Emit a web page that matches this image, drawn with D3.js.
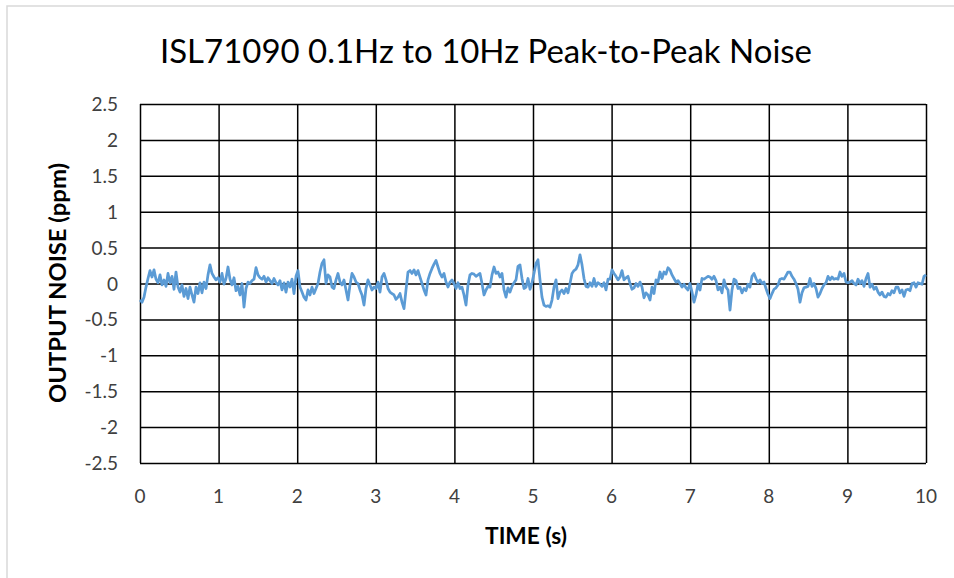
<!DOCTYPE html>
<html>
<head>
<meta charset="utf-8">
<script src="https://cdn.jsdelivr.net/npm/d3@7"></script>
<style>
  body { margin: 0; background: #fff; }
  svg { display: block; font-family: Lato, "Open Sans", sans-serif; }
</style>
</head>
<body>
<div id="chart"></div>
<script>
// Données
const chartTitle = 'ISL71090 0.1Hz to 10Hz Peak-to-Peak Noise';
const xTitle = 'TIME (s)';
const yTitle = 'OUTPUT NOISE (ppm)';
const xTicks = [0, 1, 2, 3, 4, 5, 6, 7, 8, 9, 10];
const yTicks = [2.5, 2, 1.5, 1, 0.5, 0, -0.5, -1, -1.5, -2, -2.5];
const timeRange = [0, 10];

// bruit de sortie (ppm), échantillons réguliers de 0 à 10 s
const noisePpm = [
  -0.23, -0.26, -0.19, -0.05, 0.07, 0.18, 0.09, 0.19, 0.06, 0.01,
  0.12, -0.02, 0.05, -0.04, 0.14, 0.01, 0.10, -0.08, 0.16, -0.05,
  -0.12, -0.02, -0.18, -0.07, -0.21, -0.05, -0.16, -0.26, -0.05, -0.14,
  0.01, -0.13, 0.02, -0.07, 0.12, 0.26, 0.14, 0.09, 0.05, 0.08,
  0.02, 0.14, -0.01, 0.07, 0.23, 0.06, -0.02, 0.08, -0.10, -0.04,
  -0.16, 0, -0.33, -0.07, 0.02, 0, 0.04, 0.06, 0.22, 0.12,
  0.08, 0.06, 0.10, 0.02, 0.08, 0.04, 0, 0.07, 0.01, -0.02,
  0.04, -0.09, 0.01, -0.12, 0.02, -0.05, 0.06, -0.14, 0.10, 0.18,

  -0.05, -0.12, -0.19, -0.23, -0.09, -0.16, -0.05, -0.14, -0.07, 0,
  0.16, 0.28, 0.33, 0, 0.12, 0.09, -0.05, -0.07, 0.05, 0.14,
  0.02, -0.02, 0.05, -0.09, -0.23, -0.02, 0.14, 0.09, 0.02, 0,
  -0.09, -0.16, -0.30, -0.07, 0.05, -0.02, -0.09, -0.05, -0.07, 0.02,
  -0.12, 0.09, 0.14, 0.05, -0.07, -0.12, -0.14, -0.16, -0.22, -0.19,
  -0.14, -0.26, -0.35, -0.09, 0.16, 0.18, 0.14, 0.19, 0.12, 0.18,
  0.09, 0, -0.09, -0.16, 0.05, 0.14, 0.21, 0.27, 0.32, 0.23,
  0.14, 0.09, 0.14, 0.02, -0.05, 0.02, 0.05, 0, -0.07, 0.01,

  -0.07, -0.05, -0.16, -0.30, -0.02, 0.12, 0.14, 0.13, 0.10, 0.12,
  0.14, 0, -0.16, -0.09, -0.04, -0.05, 0.12, 0.23, 0.14, 0.16,
  0.09, 0.14, -0.09, -0.19, -0.06, -0.12, -0.04, 0.01, 0.05, 0.24,
  0.26, 0.07, -0.07, -0.05, 0.07, -0.08, 0.01, 0.14, 0.28, 0.33,
  0.05, -0.19, -0.30, -0.32, -0.31, -0.33, -0.23, -0.05, 0.05, -0.21,
  -0.12, -0.09, -0.14, -0.07, -0.13, 0, 0.14, 0.18, 0.20, 0.26,
  0.40, 0.26, 0.07, -0.04, -0.05, 0.01, -0.04, 0.07, -0.04, 0.01,
  -0.01, -0.04, 0.01, -0.09, 0.06, 0.06, 0.19, 0.14, 0.10, 0.05,

  0.09, 0.18, 0.05, 0.08, 0.10, 0, -0.08, -0.06, 0, -0.04,
  0.02, -0.05, -0.20, -0.13, -0.16, -0.23, -0.05, -0.14, 0.05, 0.02,
  0.16, 0.07, 0.16, 0.13, 0.22, 0.19, 0.12, 0.07, 0.02, 0.04,
  0, -0.05, -0.01, -0.06, -0.09, 0, -0.12, -0.26, -0.16, -0.01,
  -0.09, 0.07, 0.06, 0.08, 0.10, 0.09, 0.06, 0.10, 0.04, -0.09,
  -0.05, -0.13, 0.05, -0.05, -0.09, -0.37, -0.09, 0.06, 0.04, -0.07,
  -0.05, -0.13, -0.07, -0.10, -0.01, -0.05, 0.10, 0.14, 0.07, 0.01,
  0.05, 0, 0.02, -0.07, -0.15, -0.21, -0.14, -0.08, -0.06, -0.02,

  0.06, 0.07, 0.06, 0.11, 0.16, 0.16, 0.10, 0.06, 0, -0.08,
  -0.26, -0.13, -0.06, -0.05, -0.04, 0.07, -0.04, 0, -0.07, -0.19,
  -0.14, -0.07, -0.02, 0.01, 0.10, 0.05, 0.09, 0.06, 0.07, 0.06,
  0.16, 0.10, 0.14, 0.02, 0.01, 0.02, 0.04, 0, -0.02, 0.06,
  0, 0.04, -0.04, 0.07, 0.14, -0.05, -0.01, -0.08, -0.05, -0.12,
  -0.16, -0.12, -0.18, -0.19, -0.14, -0.16, -0.10, -0.13, -0.05, -0.05,
  -0.13, -0.09, -0.18, -0.09, -0.08, -0.10, 0, 0.01, -0.05, 0.01,
  0, -0.01, 0.10, 0.12
];

const width = 954, height = 578;
const margin = { top: 104, right: 28, bottom: 115, left: 140 };

const svg = d3.select('#chart')
  .append('svg')
  .attr('width', width)
  .attr('height', height);

// cadre gris clair
svg.append('path')
  .attr('d', `M7,${height} L7,6 L${width},6`)
  .attr('fill', 'none')
  .attr('stroke', '#d9d9d9')
  .attr('stroke-width', 1.5);

const x = d3.scaleLinear()
  .domain(timeRange)
  .range([margin.left, width - margin.right]);

const y = d3.scaleLinear()
  .domain([-2.5, 2.5])
  .range([height - margin.bottom, margin.top]);

const dt = (timeRange[1] - timeRange[0]) / (noisePpm.length - 1);

// grille
svg.append('g')
  .attr('transform', `translate(0,${height - margin.bottom})`)
  .call(d3.axisBottom(x).tickValues(xTicks).tickSize(-(height - margin.top - margin.bottom)).tickFormat(''))
  .call(g => g.select('.domain').remove())
  .call(g => g.selectAll('line').attr('stroke', '#000').attr('stroke-width', 1.5));

svg.append('g')
  .attr('transform', `translate(${margin.left},0)`)
  .call(d3.axisLeft(y).tickValues(yTicks).tickSize(-(width - margin.left - margin.right)).tickFormat(''))
  .call(g => g.select('.domain').remove())
  .call(g => g.selectAll('line').attr('stroke', '#000').attr('stroke-width', 1.5));

// étiquettes des axes
svg.append('g')
  .selectAll('text')
  .data(xTicks)
  .enter()
  .append('text')
  .attr('x', d => x(d))
  .attr('y', 503)
  .attr('text-anchor', 'middle')
  .attr('fill', '#404040')
  .attr('font-size', '19px')
  .text(d => d);

svg.append('g')
  .selectAll('text')
  .data(yTicks)
  .enter()
  .append('text')
  .attr('x', 118)
  .attr('y', d => y(d) + 7)
  .attr('text-anchor', 'end')
  .attr('fill', '#404040')
  .attr('font-size', '19px')
  .text(d => d);

// courbe du bruit
const line = d3.line()
  .x((d, i) => x(timeRange[0] + i * dt))
  .y(d => y(d));

svg.append('path')
  .datum(noisePpm)
  .attr('d', line)
  .attr('fill', 'none')
  .attr('stroke', '#5b9bd5')
  .attr('stroke-width', 2.75)
  .attr('stroke-linejoin', 'round');

// titres
svg.append('text')
  .attr('x', 486)
  .attr('y', 63)
  .attr('text-anchor', 'middle')
  .attr('fill', '#000')
  .attr('font-size', '32px')
  .attr('textLength', 652)
  .attr('lengthAdjust', 'spacingAndGlyphs')
  .text(chartTitle);

svg.append('text')
  .attr('x', 526)
  .attr('y', 544)
  .attr('text-anchor', 'middle')
  .attr('fill', '#000')
  .attr('font-size', '22px')
  .attr('font-weight', 'bold')
  .attr('textLength', 82)
  .attr('lengthAdjust', 'spacingAndGlyphs')
  .text(xTitle);

svg.append('text')
  .attr('transform', 'translate(66,283) rotate(-90)')
  .attr('text-anchor', 'middle')
  .attr('fill', '#000')
  .attr('font-size', '22px')
  .attr('font-weight', 'bold')
  .attr('textLength', 240)
  .attr('lengthAdjust', 'spacingAndGlyphs')
  .text(yTitle);
</script>
</body>
</html>
